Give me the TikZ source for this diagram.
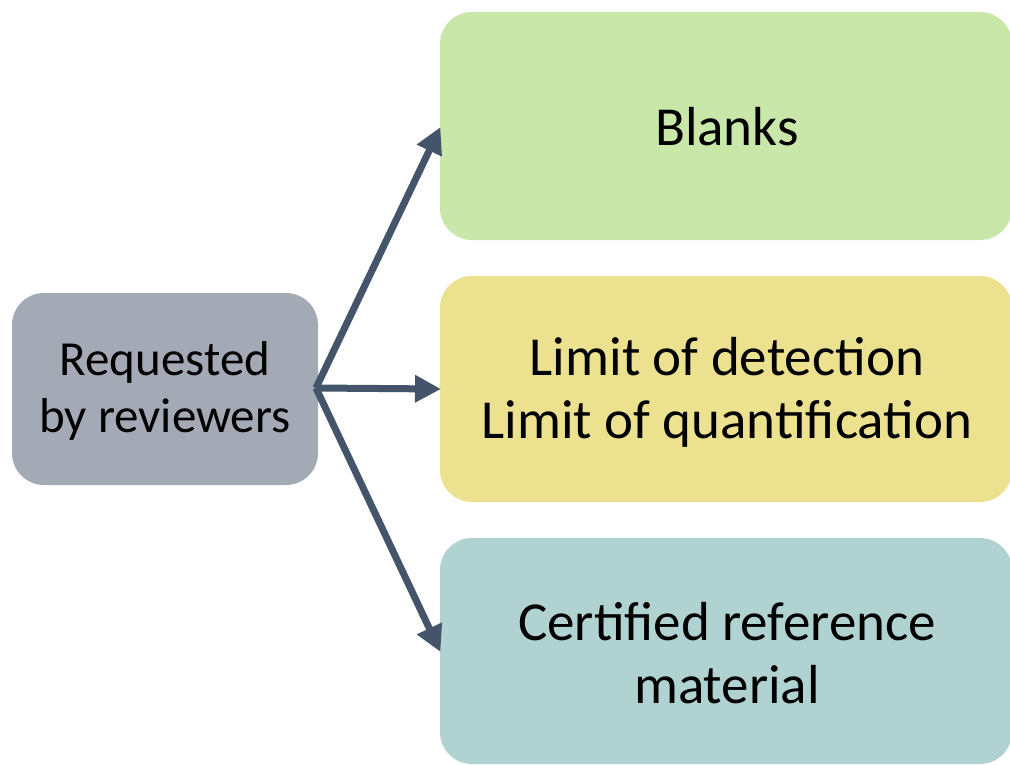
\documentclass[tikz,border=0pt]{standalone}
\usepackage{fontspec}
\setmainfont{Carlito}
\usetikzlibrary{arrows.meta}
\definecolor{cgray}{HTML}{A3AAB5}
\definecolor{cgreen}{HTML}{C9E7A8}
\definecolor{cyellow}{HTML}{EBE18F}
\definecolor{cteal}{HTML}{B0D2D1}
\definecolor{carrow}{HTML}{44546A}
\tikzset{
  box/.style={rounded corners=32pt},
  lbl/.style={inner sep=0pt, align=center, text=black},
  conn/.style={draw=carrow, line width=7pt, -{Triangle[length=26pt,width=26pt]}, shorten >=-1pt}
}
\begin{document}
\begin{tikzpicture}[x=1pt,y=-1pt]
\useasboundingbox (0,0) rectangle (1010,765);
\clip (0,0) rectangle (1010,765);
\path[box, fill=cgray] (12,293) rectangle (318,485);
\node[lbl, font=\fontsize{49}{57}\selectfont] (req) at (165,391) {Requested\\by reviewers};
\coordinate (src) at (316,388);
\path[box, fill=cgreen] (440,12) rectangle (1012,240);
\path[box, fill=cyellow] (440,276) rectangle (1012,502);
\path[box, fill=cteal] (440,538) rectangle (1012,764);
\node[lbl, font=\fontsize{55}{63}\selectfont] (blanks) at (727,127) {Blanks};
\node[lbl, font=\fontsize{55}{63}\selectfont] (lod) at (727,392) {Limit of detection\\Limit of quantification};
\node[lbl, font=\fontsize{55}{63}\selectfont] (crm) at (727,653) {Certified reference\\material};
\coordinate (t1) at (440,128);
\coordinate (t2) at (440,389);
\coordinate (t3) at (440,651);
\draw[conn] (src) -- (t1);
\draw[conn] (src) -- (t2);
\draw[conn] (src) -- (t3);
\end{tikzpicture}
\end{document}
